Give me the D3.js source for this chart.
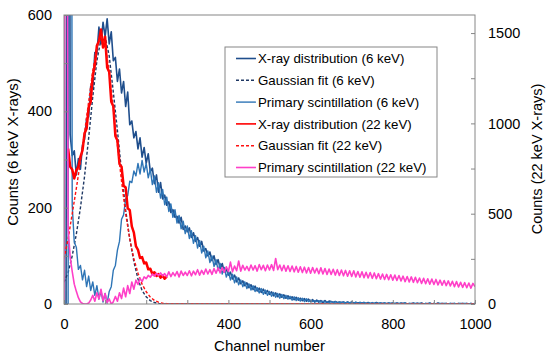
<!DOCTYPE html>
<html>
<head>
<meta charset="utf-8">
<title>Channel spectra</title>
<script src="https://cdn.jsdelivr.net/npm/d3@7"></script>
<style>
  body{margin:0;background:#fff;}
  svg text{font-family:"Liberation Sans",Arial,sans-serif;fill:#000;}
</style>
</head>
<body>
<svg id="chart" width="546" height="363"></svg>
<script>
// measured spectra are read every 5 channels, the fits every 10
var channels    = d3.range(0, 1001, 5);
var fitChannels = d3.range(0, 251, 10).concat([1000]);

// X-ray distribution (6 keV) - left axis
var xray6 = [
    0, 0, 3000, 352, 308, 318, 268, 302, 280, 330,
    342, 385, 388, 452, 448, 522, 520, 575, 540, 585,
    555, 592, 540, 565, 505, 512, 462, 488, 438, 462,
    410, 440, 372, 380, 345, 358, 322, 345, 305, 325,
    292, 312, 275, 282, 250, 268, 232, 252, 218, 226,
    205, 212, 190, 196, 180, 182, 168, 180, 155, 162,
    150, 158, 138, 148, 130, 138, 120, 130, 110, 115,
    100, 108, 90, 100, 82, 92, 74, 84, 66, 72,
    60, 66, 52, 60, 46, 54, 42, 48, 38, 44,
    34, 40, 30, 37, 27, 33, 24, 31, 22, 28,
    20, 25, 17, 23, 15, 21, 14, 19, 12, 17,
    11, 15, 9, 14, 8, 12, 7, 11, 6, 10,
    5, 9, 4, 8, 4, 7, 3, 7, 3, 6,
    5, 3, 5, 3, 4, 3, 4, 2, 4, 2,
    4, 2, 3, 2, 3, 2, 3, 1, 3, 1,
    2, 1, 3, 1, 2, 1, 2, 1, 2, 1,
    2, 1, 2, 0, 2, 1, 2, 0, 1, 1,
    2, 0, 1, 1, 2, 0, 1, 0, 2, 0,
    1, 0, 2, 0, 1, 1, 1, 0, 1, 0,
    1, 0, 1, 1, 1, 0, 1, 0, 1, 0,
    1
];

// Gaussian fit (6 keV) - left axis
var gauss6 = [
    45, 65, 100, 145, 200, 265, 345, 430, 505, 550,
    555, 515, 440, 360, 275, 195, 135, 88, 52, 28,
    15, 7, 3, 1, 0, 0, 0
];

// Primary scintillation (6 keV) - left axis
var prim6 = [
    0, 0, 0, 3000, 205, 128, 118, 72, 80, 50,
    70, 36, 58, 28, 46, 18, 38, 10, 28, 4,
    22, 2, 26, 36, 70, 80, 112, 130, 176, 185,
    218, 225, 255, 252, 276, 266, 292, 270, 298, 274,
    292, 262, 280, 248, 266, 232, 252, 220, 238, 206,
    222, 192, 208, 180, 196, 168, 184, 156, 172, 146,
    162, 136, 152, 126, 142, 116, 132, 106, 120, 96,
    110, 86, 100, 78, 92, 70, 84, 62, 76, 56,
    68, 50, 62, 44, 56, 40, 50, 36, 46, 32,
    42, 29, 38, 26, 34, 23, 32, 20, 29, 18,
    26, 16, 24, 14, 22, 12, 20, 11, 18, 10,
    16, 8, 15, 7, 13, 6, 12, 5, 11, 5,
    8, 5, 7, 5, 7, 4, 6, 4, 5, 3,
    5, 3, 5, 2, 4, 3, 4, 2, 4, 2,
    3, 2, 4, 1, 3, 2, 3, 1, 2, 1,
    3, 1, 2, 1, 2, 1, 2, 0, 2, 1,
    2, 0, 2, 1, 1, 1, 2, 0, 1, 0,
    1, 1, 2, 0, 1, 0, 1, 1, 1, 0,
    1, 0, 1, 1, 1, 0, 1, 0, 1, 1,
    1, 0, 1, 0, 1, 1, 1, 0, 1, 0,
    1
];

// X-ray distribution (22 keV) - right axis, visible up to ch 250
var xray22 = [
    null, null, 860, 760, 745, 695, 740, 760, 815, 850,
    945, 970, 1090, 1120, 1265, 1320, 1430, 1455, 1520, 1420,
    1480, 1310, 1285, 1120, 1095, 930, 905, 775, 760, 655,
    645, 530, 520, 430, 395, 320, 300, 255, 260, 225,
    230, 192, 195, 166, 176, 155, 166, 146, 158, 140,
    152
];

// Gaussian fit (22 keV) - right axis
var gauss22 = [
    250, 360, 500, 640, 790, 950, 1120, 1290, 1420, 1480,
    1440, 1290, 1080, 880, 680, 500, 360, 250, 170, 110,
    68, 38, 20, 10, 4, 2, 0
];

// Primary scintillation (22 keV) - right axis
var prim22 = [
    0, 5000, 420, 260, 180, 110, 70, 35, 12, 3,
    0, 0, 5, 22, 48, 15, 62, 28, 82, 18,
    58, 8, 28, 0, 12, 42, 15, 62, 30, 88,
    40, 102, 58, 122, 82, 132, 108, 142, 124, 150,
    140, 158, 148, 166, 154, 170, 158, 172, 156, 168,
    150, 178, 152, 174, 156, 180, 150, 182, 158, 176,
    158, 184, 156, 182, 162, 190, 160, 186, 164, 194,
    166, 190, 164, 196, 170, 200, 172, 202, 176, 206,
    180, 232, 178, 210, 184, 238, 182, 214, 188, 208,
    184, 216, 188, 212, 182, 218, 190, 214, 184, 216,
    188, 218, 186, 252, 190, 216, 184, 214, 182, 212,
    180, 210, 178, 208, 176, 206, 174, 204, 172, 202,
    170, 202, 172, 198, 168, 200, 166, 196, 164, 194,
    164, 192, 160, 190, 158, 188, 156, 186, 154, 184,
    152, 184, 150, 180, 148, 178, 146, 176, 144, 174,
    142, 172, 140, 168, 138, 166, 136, 164, 134, 162,
    132, 160, 130, 158, 128, 154, 124, 152, 122, 150,
    120, 148, 118, 144, 114, 142, 112, 140, 110, 138,
    108, 136, 106, 132, 104, 130, 102, 128, 100, 126,
    96, 124, 94, 120, 92, 118, 90, 116, 88, 114,
    96
];

var xTicks  = d3.range(0, 1001, 100);
var yLTicks = d3.range(0, 601, 100);
var yRTicks = d3.range(0, 1501, 250);

var legendNames = [
    'X-ray distribution (6 keV)',
    'Gaussian fit (6 keV)',
    'Primary scintillation (6 keV)',
    'X-ray distribution (22 keV)',
    'Gaussian fit (22 keV)',
    'Primary scintillation (22 keV)'
];


// plot box (window.top is reserved, so no bare "top")
var pL = 64, pR = 475, pT = 15, pB = 304;
var frameColor = '#868686';

var svg = d3.select('#chart');

var x  = d3.scaleLinear().domain([0, 1000]).range([pL, pR]);
var yL = d3.scaleLinear().domain([0, 600]).range([pB, pT]);
var yR = d3.scaleLinear().domain([0, 1600]).range([pB, pT]);

var series = [
    {xs: channels,    v: xray6,   y: yL, color: '#1F4E8C', w: 1.6},
    {xs: fitChannels, v: gauss6,  y: yL, color: '#1F3864', w: 1.4, dash: '3,2'},
    {xs: channels,    v: prim6,   y: yL, color: '#2E75B6', w: 1.4},
    {xs: channels,    v: xray22,  y: yR, color: '#FF0000', w: 2.5},
    {xs: fitChannels, v: gauss22, y: yR, color: '#FF1010', w: 1.4, dash: '3,2'},
    {xs: channels,    v: prim22,  y: yR, color: '#FF3FC8', w: 1.6}
];

svg.append('clipPath').attr('id', 'plotclip')
    .append('rect')
    .attr('x', pL).attr('y', pT)
    .attr('width', pR - pL).attr('height', pB - pT);

var plot = svg.append('g').attr('clip-path', 'url(#plotclip)');

series.forEach(function(s){
    var pts = s.v.map(function(v, i){ return [s.xs[i], v]; });
    var line = d3.line()
        .defined(function(d){ return d[1] != null; })
        .x(function(d){ return x(d[0]); })
        .y(function(d){ return s.y(d[1]); });
    plot.append('path')
        .datum(pts)
        .attr('fill', 'none')
        .attr('stroke', s.color)
        .attr('stroke-width', s.w)
        .attr('stroke-linejoin', 'round')
        .attr('stroke-dasharray', s.dash || null)
        .attr('d', line);
});

// frame
svg.append('rect')
    .attr('x', pL).attr('y', pT)
    .attr('width', pR - pL).attr('height', pB - pT)
    .attr('fill', 'none')
    .attr('stroke', frameColor)
    .attr('stroke-width', 1);

function styleAxis(g){
    g.select('.domain').remove();
    g.attr('font-size', 14.5).attr('font-family', null);
    g.selectAll('line').attr('stroke', frameColor);
}

svg.append('g')
    .attr('transform', 'translate(0,' + pB + ')')
    .call(d3.axisBottom(x).tickValues(xTicks)
        .tickFormat(function(d){ return d % 200 === 0 ? d : ''; })
        .tickSizeInner(-4).tickSizeOuter(0).tickPadding(15))
    .call(styleAxis);

svg.append('g')
    .attr('transform', 'translate(' + pL + ',0)')
    .call(d3.axisLeft(yL).tickValues(yLTicks)
        .tickFormat(function(d){ return d % 200 === 0 ? d : ''; })
        .tickSizeInner(-4).tickSizeOuter(0).tickPadding(12))
    .call(styleAxis);

svg.append('g')
    .attr('transform', 'translate(' + pR + ',0)')
    .call(d3.axisRight(yR).tickValues(yRTicks)
        .tickFormat(function(d){ return d % 500 === 0 ? d : ''; })
        .tickSizeInner(-4).tickSizeOuter(0).tickPadding(13))
    .call(styleAxis);

// axis titles
svg.append('text')
    .attr('x', 269.5).attr('y', 351)
    .attr('text-anchor', 'middle')
    .attr('font-size', 15)
    .text('Channel number');

svg.append('text')
    .attr('transform', 'translate(18,152) rotate(-90)')
    .attr('text-anchor', 'middle')
    .attr('font-size', 15)
    .text('Counts (6 keV X-rays)');

svg.append('text')
    .attr('transform', 'translate(542,159) rotate(-90)')
    .attr('text-anchor', 'middle')
    .attr('font-size', 14.5)
    .text('Counts (22 keV X-rays)');

// legend
var legend = svg.append('g');
legend.append('rect')
    .attr('x', 225).attr('y', 47)
    .attr('width', 212).attr('height', 130)
    .attr('fill', '#fff')
    .attr('stroke', frameColor);

legendNames.forEach(function(name, i){
    var s = series[i], yy = 58.5 + i * 21.8;
    legend.append('line')
        .attr('x1', 236).attr('x2', 256)
        .attr('y1', yy).attr('y2', yy)
        .attr('stroke', s.color)
        .attr('stroke-width', Math.min(s.w, 1.6))
        .attr('stroke-dasharray', s.dash || null);
    legend.append('text')
        .attr('x', 258).attr('y', yy)
        .attr('dy', '0.35em')
        .attr('font-size', 13.3)
        .text(name);
});
</script>
</body>
</html>
